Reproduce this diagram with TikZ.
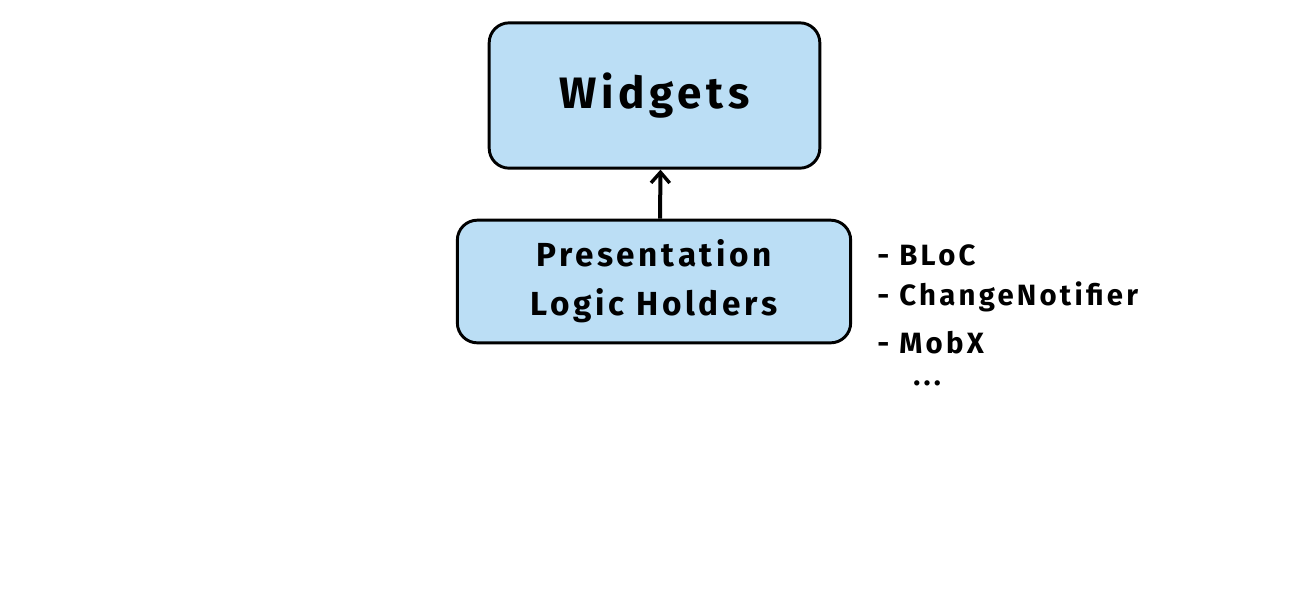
\documentclass[tikz,border=0pt]{standalone}
\usepackage{fontspec}
\setmainfont{Fira Sans}[LetterSpace=11]
\usetikzlibrary{arrows.meta}

\definecolor{boxblue}{HTML}{BBDEF5}

\tikzset{
    layer/.style={draw=black, fill=boxblue, line width=2.2pt, rounded corners=15pt, align=center, font=\bfseries},
    item/.style={anchor=base west, inner sep=0pt, font=\bfseries\fontsize{22}{26}\selectfont}
}

\begin{document}
\begin{tikzpicture}[x=0.75pt, y=-0.75pt]
    \useasboundingbox (0,0) rectangle (1300,600);
    \node[layer, minimum width=248pt, minimum height=109pt, font=\bfseries\fontsize{33}{38}\selectfont] (widgets) at (654.5, 95.5) {Widgets};
    \node[layer, minimum width=295pt, minimum height=92pt, font=\bfseries\fontsize{25}{37}\selectfont] (holders) at (654, 281.5) {Presentation\\Logic Holders};
    \draw[-{Straight Barb[length=8pt, width=14pt, line width=2.6pt]}, line width=3pt] ([xshift=4.5pt]holders.north) -- ([xshift=4.5pt]widgets.south);
    \node[item] (bloc) at (877, 265) {- BLoC};
    \node[item] (notifier) at (877, 305) {- ChangeNotifier};
    \node[item] (mobx) at (877, 353) {- MobX};
    \node[item] (more) at (913, 385) {...};
\end{tikzpicture}
\end{document}
